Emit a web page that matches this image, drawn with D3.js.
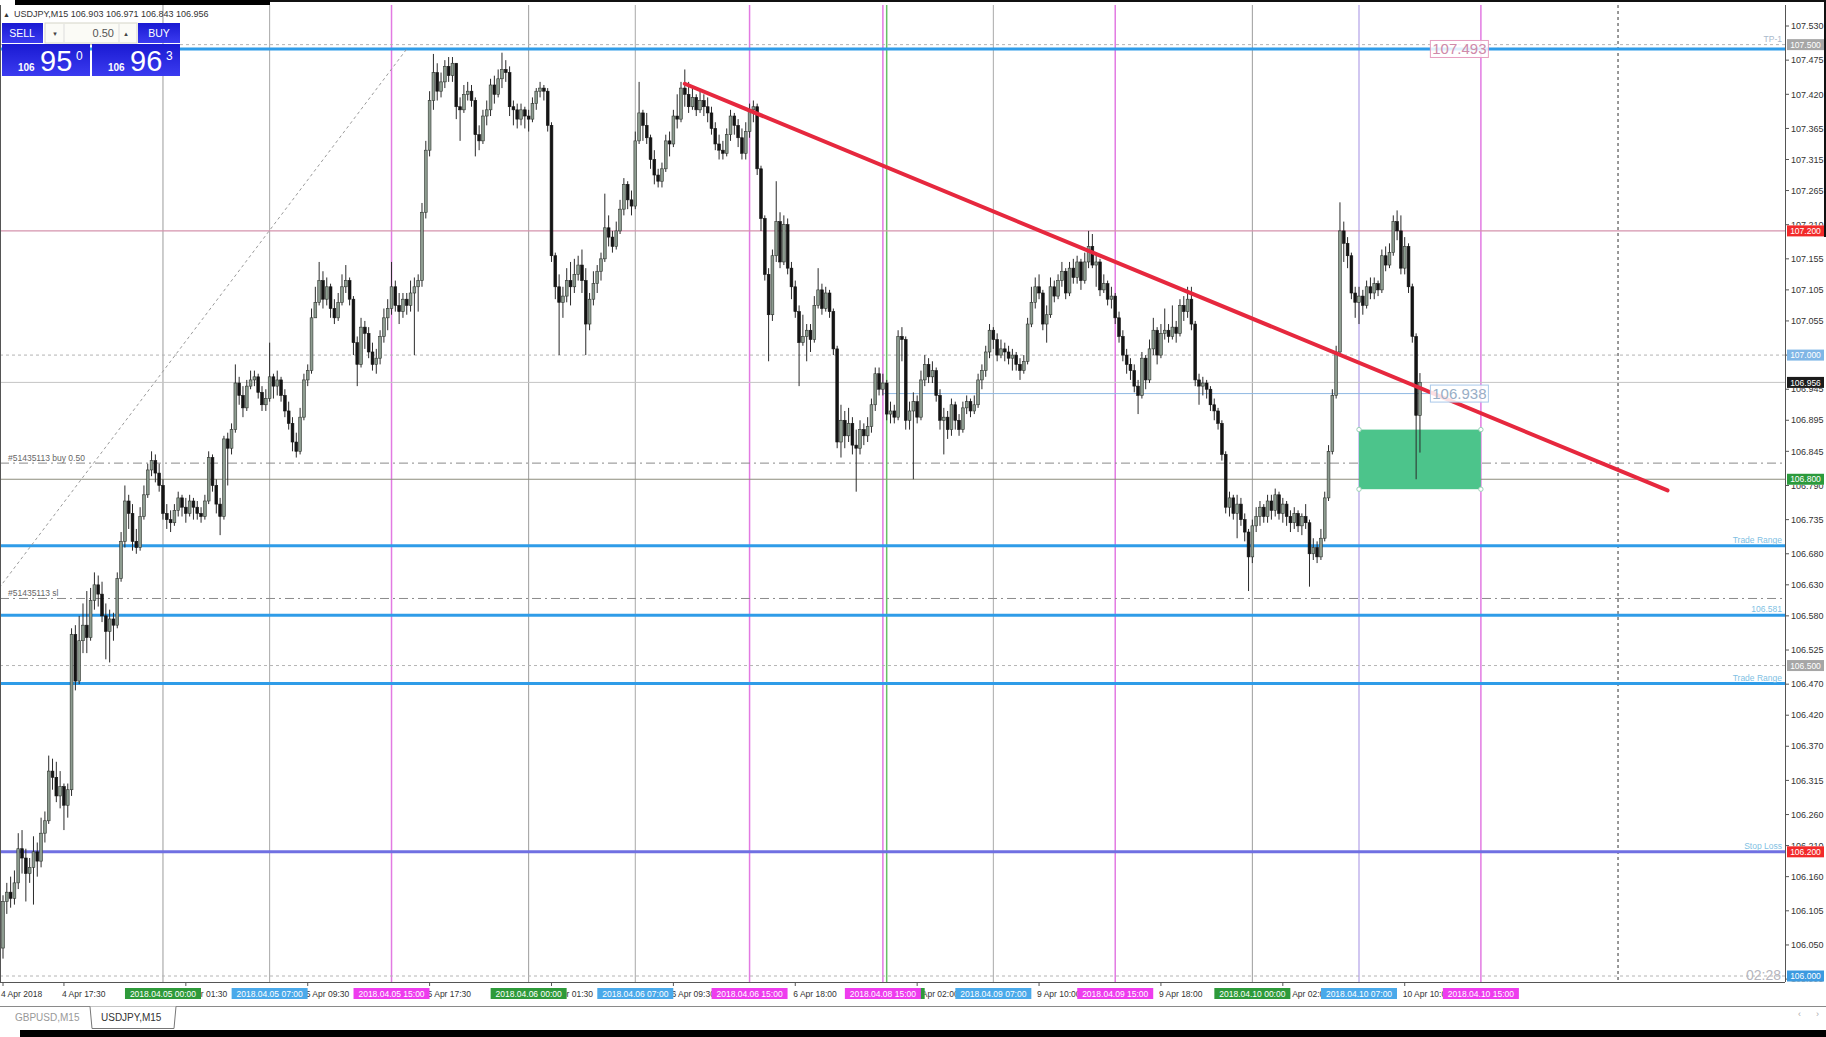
<!DOCTYPE html>
<html>
<head>
<meta charset="utf-8">
<script src="https://cdn.jsdelivr.net/npm/d3@7"></script>
<style>
  html, body { margin: 0; padding: 0; background: #fff; overflow: hidden; }
  svg { display: block; font-family: "Liberation Sans", "DejaVu Sans", sans-serif; }
</style>
</head>
<body>
<script>
// USDJPY M15, 4 Apr 13:30 .. 10 Apr 11:00 (bar index = M15 bar, weekend skipped)
const firstOpen = 106.045;

const closes = [
  106.120,106.135,106.125,106.150,106.205,106.190,106.165,106.175,106.200,106.185,
  106.230,106.250,106.330,106.320,106.290,106.305,106.275,106.300,106.550,106.475,
  106.540,106.565,106.545,106.605,106.630,106.615,106.580,106.555,106.575,106.565,
  106.640,106.700,106.765,106.745,106.700,106.690,106.740,106.775,106.815,106.830,
  106.810,106.790,106.745,106.735,106.730,106.750,106.770,106.755,106.745,106.765,
  106.755,106.745,106.740,106.765,106.835,106.790,106.760,106.740,106.865,106.850,
  106.880,106.955,106.935,106.915,106.950,106.960,106.965,106.940,106.920,106.930,
  106.965,106.950,106.960,106.935,106.910,106.890,106.860,106.845,106.900,106.960,
  106.975,107.060,107.085,107.120,107.090,107.110,107.075,107.060,107.085,107.110,
  107.120,107.090,107.020,106.985,107.045,107.035,107.005,106.985,106.995,107.030,
  107.060,107.075,107.110,107.080,107.070,107.090,107.080,107.100,107.110,107.120,
  107.230,107.330,107.410,107.455,107.425,107.440,107.465,107.450,107.470,107.400,
  107.395,107.420,107.425,107.410,107.355,107.345,107.385,107.395,107.435,107.420,
  107.445,107.460,107.455,107.400,107.395,107.380,107.395,107.385,107.380,107.405,
  107.425,107.430,107.425,107.370,107.160,107.110,107.085,107.095,107.120,107.110,
  107.130,107.145,107.120,107.050,107.090,107.115,107.135,107.155,107.205,107.190,
  107.175,107.200,107.235,107.275,107.250,107.240,107.345,107.390,107.370,107.350,
  107.315,107.290,107.280,107.300,107.345,107.340,107.385,107.380,107.430,107.420,
  107.400,107.415,107.395,107.410,107.400,107.390,107.365,107.340,107.330,107.325,
  107.355,107.385,107.370,107.350,107.325,107.360,107.395,107.400,107.300,107.220,
  107.130,107.065,107.160,107.215,107.150,107.210,107.140,107.110,107.070,107.020,
  107.030,107.040,107.025,107.080,107.105,107.075,107.100,107.070,107.010,106.860,
  106.895,106.870,106.890,106.855,106.850,106.880,106.870,106.885,106.920,106.970,
  106.945,106.955,106.905,106.910,106.900,107.030,107.025,106.895,106.910,106.925,
  106.900,106.960,106.985,106.965,106.975,106.935,106.895,106.900,106.880,106.920,
  106.895,106.880,106.915,106.925,106.910,106.920,106.960,106.975,107.005,107.040,
  107.025,107.000,107.010,107.005,106.995,107.000,106.985,106.975,106.990,107.050,
  107.085,107.110,107.100,107.050,107.065,107.110,107.095,107.120,107.135,107.100,
  107.140,107.125,107.150,107.120,107.150,107.175,107.145,107.150,107.105,107.115,
  107.090,107.095,107.060,107.030,107.000,106.985,106.975,106.950,106.935,106.995,
  106.960,107.010,107.040,107.000,107.035,107.040,107.030,107.045,107.035,107.080,
  107.070,107.090,107.050,106.960,106.950,106.955,106.945,106.920,106.910,106.890,
  106.840,106.755,106.770,106.745,106.760,106.735,106.715,106.675,106.725,106.740,
  106.755,106.740,106.765,106.750,106.775,106.745,106.760,106.740,106.730,106.745,
  106.725,106.740,106.730,106.680,106.690,106.675,106.705,106.770,106.845,106.935,
  107.005,107.200,107.180,107.160,107.100,107.085,107.095,107.080,107.110,107.100,
  107.115,107.105,107.160,107.145,107.165,107.215,107.200,107.140,107.175,107.110,
  107.030,106.903,106.956
];

const highs = [
  106.130,106.150,106.160,106.170,106.230,106.235,106.205,106.190,106.225,106.215,
  106.255,106.265,106.355,106.350,106.345,106.330,106.310,106.310,106.560,106.565,
  106.580,106.600,106.620,106.625,106.650,106.645,106.635,106.600,106.590,106.585,
  106.650,106.715,106.790,106.775,106.760,106.720,106.755,106.790,106.825,106.845,
  106.840,106.825,106.800,106.760,106.750,106.760,106.780,106.775,106.770,106.775,
  106.770,106.765,106.755,106.775,106.845,106.840,106.800,106.770,106.870,106.875,
  106.890,106.985,106.965,106.950,106.960,106.975,106.975,106.970,106.950,106.945,
  107.020,106.970,106.975,106.965,106.945,106.925,106.900,106.875,106.915,106.970,
  106.985,107.075,107.110,107.150,107.135,107.125,107.115,107.090,107.100,107.130,
  107.145,107.125,107.095,107.030,107.060,107.055,107.045,107.020,107.010,107.040,
  107.075,107.090,107.150,107.120,107.100,107.100,107.100,107.120,107.125,107.130,
  107.245,107.345,107.425,107.485,107.470,107.455,107.475,107.480,107.480,107.470,
  107.415,107.435,107.440,107.435,107.415,107.370,107.395,107.410,107.445,107.450,
  107.460,107.487,107.475,107.465,107.410,107.405,107.405,107.400,107.395,107.415,
  107.430,107.440,107.435,107.430,107.375,107.165,107.130,107.110,107.140,107.150,
  107.155,107.160,107.170,107.140,107.100,107.135,107.145,107.165,107.260,107.225,
  107.200,107.215,107.250,107.285,107.280,107.265,107.360,107.440,107.395,107.390,
  107.355,107.330,107.300,107.310,107.355,107.360,107.395,107.420,107.440,107.460,
  107.440,107.430,107.420,107.425,107.420,107.415,107.400,107.375,107.355,107.345,
  107.365,107.395,107.390,107.380,107.365,107.375,107.405,107.410,107.405,107.305,
  107.225,107.140,107.170,107.280,107.230,107.225,107.220,107.150,107.120,107.080,
  107.065,107.050,107.050,107.095,107.140,107.115,107.110,107.105,107.075,107.015,
  106.920,106.910,106.915,106.900,106.880,106.895,106.890,106.900,106.930,106.980,
  106.980,106.970,106.960,106.925,106.920,107.040,107.045,107.030,106.925,106.940,
  106.935,106.975,107.000,106.995,106.990,106.980,106.945,106.915,106.910,106.930,
  106.925,106.905,106.925,106.935,106.930,106.935,106.970,106.985,107.015,107.050,
  107.045,107.035,107.025,107.020,107.015,107.010,107.005,106.995,107.000,107.060,
  107.110,107.125,107.130,107.105,107.080,107.125,107.120,107.130,107.150,107.140,
  107.150,107.155,107.160,107.155,107.165,107.200,107.195,107.165,107.155,107.130,
  107.120,107.110,107.100,107.070,107.040,107.010,106.995,106.985,106.960,107.005,
  107.000,107.025,107.060,107.045,107.050,107.075,107.050,107.080,107.055,107.090,
  107.095,107.110,107.110,107.055,106.970,106.965,106.960,106.950,106.930,106.915,
  106.895,106.845,106.780,106.775,106.775,106.770,106.745,106.720,106.735,106.755,
  106.765,106.760,106.775,106.775,106.785,106.780,106.770,106.765,106.750,106.755,
  106.750,106.745,106.760,106.735,106.705,106.700,106.720,106.780,106.855,106.945,
  107.015,107.246,107.215,107.190,107.165,107.110,107.110,107.105,107.120,107.125,
  107.125,107.120,107.170,107.175,107.180,107.225,107.233,107.225,107.190,107.180,
  107.115,107.035,106.971
];

const lows = [
  106.028,106.100,106.110,106.115,106.140,106.165,106.120,106.150,106.115,106.160,
  106.175,106.215,106.245,106.300,106.280,106.270,106.235,106.255,106.290,106.460,
  106.470,106.520,106.520,106.540,106.590,106.595,106.570,106.510,106.505,106.540,
  106.560,106.635,106.690,106.720,106.685,106.680,106.685,106.735,106.770,106.805,
  106.795,106.780,106.735,106.720,106.715,106.725,106.740,106.740,106.730,106.740,
  106.735,106.735,106.730,106.735,106.760,106.780,106.745,106.710,106.735,106.790,
  106.840,106.875,106.920,106.900,106.910,106.945,106.950,106.930,106.910,106.910,
  106.925,106.930,106.935,106.925,106.900,106.880,106.845,106.835,106.840,106.895,
  106.950,106.970,107.060,107.080,107.075,107.080,107.060,107.050,107.055,107.080,
  107.100,107.080,107.000,106.950,106.980,107.010,106.995,106.975,106.970,106.985,
  107.020,107.040,107.065,107.070,107.050,107.060,107.065,107.070,107.000,107.070,
  107.110,107.220,107.320,107.395,107.410,107.415,107.430,107.440,107.440,107.380,
  107.345,107.390,107.410,107.400,107.320,107.330,107.340,107.370,107.385,107.405,
  107.415,107.430,107.440,107.385,107.370,107.365,107.370,107.365,107.360,107.375,
  107.395,107.415,107.410,107.360,107.150,107.090,107.000,107.060,107.085,107.080,
  107.100,107.120,107.100,107.000,107.040,107.080,107.100,107.120,107.150,107.175,
  107.165,107.170,107.195,107.225,107.235,107.225,107.235,107.340,107.345,107.340,
  107.300,107.275,107.270,107.270,107.295,107.320,107.335,107.365,107.375,107.400,
  107.390,107.395,107.385,107.390,107.385,107.375,107.355,107.330,107.315,107.315,
  107.320,107.345,107.355,107.335,107.315,107.315,107.350,107.375,107.290,107.200,
  107.120,106.990,107.055,107.150,107.140,107.145,107.130,107.090,107.060,106.950,
  107.015,106.990,107.005,107.020,107.075,107.065,107.070,107.060,107.000,106.850,
  106.835,106.850,106.860,106.840,106.780,106.840,106.855,106.860,106.875,106.910,
  106.935,106.935,106.895,106.890,106.890,106.895,106.990,106.880,106.880,106.800,
  106.890,106.895,106.950,106.955,106.955,106.925,106.880,106.840,106.865,106.870,
  106.880,106.870,106.875,106.905,106.900,106.905,106.915,106.945,106.965,106.995,
  107.010,106.990,106.995,106.990,106.985,106.975,106.975,106.960,106.970,106.985,
  107.045,107.075,107.090,107.040,107.020,107.060,107.085,107.090,107.110,107.090,
  107.095,107.115,107.115,107.105,107.115,107.140,107.140,107.110,107.095,107.100,
  107.080,107.075,107.050,107.020,106.990,106.970,106.960,106.940,106.905,106.930,
  106.945,106.955,107.000,106.985,106.995,107.025,107.020,107.025,107.020,107.030,
  107.055,107.060,107.040,106.950,106.920,106.935,106.930,106.910,106.895,106.880,
  106.830,106.745,106.740,106.735,106.705,106.725,106.700,106.620,106.665,106.715,
  106.725,106.730,106.730,106.735,106.740,106.735,106.730,106.725,106.715,106.720,
  106.715,106.710,106.720,106.627,106.670,106.665,106.670,106.700,106.765,106.840,
  106.930,107.000,107.150,107.140,107.090,107.060,107.050,107.065,107.075,107.090,
  107.090,107.095,107.100,107.135,107.140,107.160,107.185,107.130,107.130,107.100,
  107.020,106.800,106.843
];

// price axis
const priceTicks = [107.530,107.475,107.420,107.365,107.315,107.265,107.210,107.155,107.105,107.055,
  107.000,106.945,106.895,106.845,106.790,106.735,106.680,106.630,106.580,106.525,
  106.470,106.420,106.370,106.315,106.260,106.210,106.160,106.105,106.050,105.995];
const tagPrices = [107.500, 107.200, 107.000, 106.956, 106.800, 106.500, 106.200, 106.000];
const tagKinds  = ["grey", "red", "sky", "bid", "green", "grey", "red", "blue"];

// time axis
const timeLabelBars = [0, 16, 48, 80, 112, 144, 176, 208, 240, 272, 304, 336, 368];
const timeLabels = ["4 Apr 2018", "4 Apr 17:30", "5 Apr 01:30", "5 Apr 09:30", "5 Apr 17:30",
  "6 Apr 01:30", "6 Apr 09:30", "6 Apr 18:00", "9 Apr 02:00", "9 Apr 10:00", "9 Apr 18:00",
  "10 Apr 02:00", "10 Apr 10:00"];

// vertical line objects
const vLineBars  = [42, 70, 102, 138, 166, 196, 232, 231, 260, 292, 328, 356, 388, 424];
const vLineTimes = ["2018.04.05 00:00", "2018.04.05 07:00", "2018.04.05 15:00", "2018.04.06 00:00",
  "2018.04.06 07:00", "2018.04.06 15:00", "2018.04.09 00:00", "2018.04.08 15:00", "2018.04.09 07:00",
  "2018.04.09 15:00", "2018.04.10 00:00", "2018.04.10 07:00", "2018.04.10 15:00", ""];
const vLineKinds = ["d0", "d7", "d15", "d0", "d7", "d15", "d0g", "d15", "d7", "d15", "d0", "d7p", "d15", "sep"];

// horizontal line objects
const hLinePrices = [107.500, 107.493, 107.200, 107.000, 106.956, 106.826, 106.800, 106.693, 106.608, 106.581, 106.500, 106.471, 106.200, 106.000];
const hLineKinds  = ["dash", "blue", "pink", "dash", "bid", "order", "olive", "blue", "order", "blue", "dash", "blue", "stop", "dash"];

const rightNotePrices = [107.500, 106.693, 106.581, 106.471, 106.200];
const rightNotes = ["TP-1", "Trade Range", "106.581", "Trade Range", "Stop Loss"];
const leftNotePrices = [106.826, 106.608];
const leftNotes = ["#51435113 buy 0.50", "#51435113 sl"];

// other objects
const trendBars = [179, 437], trendPrices = [107.437, 106.782];
const diagBars = [-1, 106], diagPrices = [106.625, 107.493];
const rectBars = [356, 388], rectPrices = [106.880, 106.784];
const priceBoxBar = 375;
const priceBoxes = [107.493, 106.938];
const levelLineStart = 231;  // thin 106.938 line starts at this bar

const header = "USDJPY,M15  106.903 106.971 106.843 106.956";
const lot = "0.50";
const sellQuote = ["106", "95", "0"], buyQuote = ["106", "96", "3"];
const countdown = "02:28";
const tabs = ["GBPUSD,M15", "USDJPY,M15"];

// ---------- styles ----------
const tagFill = { grey: "#a6a6a6", red: "#f22a2a", sky: "#7fb6e6", bid: "#1b1b1b", green: "#2b9a3c", blue: "#3c9ae0" };
const vStyle = {
  d0:  { line: "#9c9c9c", w: 1,   box: "#2e9a3a" },
  d0g: { line: "#66c266", w: 1.5, box: "#2e9a3a" },
  d7:  { line: "#a9a9a9", w: 1,   box: "#4aa9ea" },
  d7p: { line: "#b9a9ea", w: 1.3, box: "#4aa9ea" },
  d15: { line: "#e27ae2", w: 1.5, box: "#ee3cee" },
  sep: { line: "#333",    w: 1,   dash: "3,3" }
};
const hStyle = {
  dash:  { c: "#b4b4b4", w: 1, dash: "3,3" },
  blue:  { c: "#2f9ce8", w: 3 },
  pink:  { c: "#d493ad", w: 1.2 },
  bid:   { c: "#c4c4c4", w: 1 },
  order: { c: "#8a8a8a", w: 1, dash: "9,4,2,4" },
  olive: { c: "#8c8c7c", w: 1.2 },
  stop:  { c: "#7070e2", w: 3 }
};

const W = 1826, H = 1037;
const plot = { left: 0, right: 1785, top: 5, bottom: 982 };

const x = d3.scaleLinear().domain([0, 468]).range([3, 3 + 468 * 3.809]);
const y = d3.scaleLinear().domain([106.0, 107.53]).range([976, 26]);

const svg = d3.select("body").append("svg").attr("width", W).attr("height", H);
svg.append("rect").attr("width", W).attr("height", H).attr("fill", "#fff");

const defs = svg.append("defs");
defs.append("clipPath").attr("id", "plotClip").append("rect")
  .attr("x", plot.left).attr("y", plot.top)
  .attr("width", plot.right - plot.left).attr("height", plot.bottom - plot.top);
const grad = defs.append("linearGradient").attr("id", "btn").attr("x1", 0).attr("x2", 0).attr("y1", 0).attr("y2", 1);
grad.append("stop").attr("offset", 0).attr("stop-color", "#1a1ad2");
grad.append("stop").attr("offset", 1).attr("stop-color", "#3b3bf0");

const g = svg.append("g").attr("clip-path", "url(#plotClip)");

// vertical lines
const vData = vLineBars.map((b, k) => ({ b, t: vLineTimes[k], s: vStyle[vLineKinds[k]] }));
g.selectAll("line.v").data(vData).join("line")
  .attr("x1", d => x(d.b)).attr("x2", d => x(d.b))
  .attr("y1", plot.top).attr("y2", plot.bottom)
  .attr("stroke", d => d.s.line).attr("stroke-width", d => d.s.w)
  .attr("stroke-dasharray", d => d.s.dash || null);

// horizontal lines
const hData = hLinePrices.map((p, k) => ({ p, s: hStyle[hLineKinds[k]] }));
g.selectAll("line.h").data(hData).join("line")
  .attr("x1", plot.left).attr("x2", plot.right)
  .attr("y1", d => y(d.p)).attr("y2", d => y(d.p))
  .attr("stroke", d => d.s.c).attr("stroke-width", d => d.s.w)
  .attr("stroke-dasharray", d => d.s.dash || null);

// thin 106.938 level
g.append("line")
  .attr("x1", x(levelLineStart)).attr("x2", x(priceBoxBar) - 2)
  .attr("y1", y(priceBoxes[1])).attr("y2", y(priceBoxes[1]))
  .attr("stroke", "#8fb8e2").attr("stroke-width", 1);

// green zone
g.append("rect")
  .attr("x", x(rectBars[0])).attr("width", x(rectBars[1]) - x(rectBars[0]))
  .attr("y", y(rectPrices[0])).attr("height", y(rectPrices[1]) - y(rectPrices[0]))
  .attr("fill", "#4cc48b");
g.selectAll("circle.h").data([[0,0],[0,1],[1,0],[1,1]]).join("circle")
  .attr("cx", d => x(rectBars[d[0]])).attr("cy", d => y(rectPrices[d[1]]))
  .attr("r", 2.2).attr("fill", "#fff").attr("stroke", "#9ad0b6").attr("stroke-width", 1);

// dotted diagonal
g.append("line")
  .attr("x1", x(diagBars[0])).attr("y1", y(diagPrices[0]))
  .attr("x2", x(diagBars[1])).attr("y2", y(diagPrices[1]))
  .attr("stroke", "#9a9a9a").attr("stroke-width", 1).attr("stroke-dasharray", "3,3");

// candles
const bars = closes.map((c, i) => {
  const o = i ? closes[i - 1] : firstOpen;
  return { i, o, c, h: Math.max(highs[i], o, c), l: Math.min(lows[i], o, c) };
});
g.selectAll("line.wick").data(bars).join("line")
  .attr("x1", d => x(d.i)).attr("x2", d => x(d.i))
  .attr("y1", d => y(d.h)).attr("y2", d => y(d.l))
  .attr("stroke", "#2b2b2b").attr("stroke-width", 1);
g.selectAll("rect.body").data(bars).join("rect")
  .attr("x", d => x(d.i) - 1.4).attr("width", 2.8)
  .attr("y", d => y(Math.max(d.o, d.c)))
  .attr("height", d => Math.max(1, Math.abs(y(d.o) - y(d.c))))
  .attr("fill", d => d.c >= d.o ? "#8d9c90" : "#141414")
  .attr("stroke", d => d.c >= d.o ? "#303530" : "#141414").attr("stroke-width", 0.6);

// trend line
g.append("line")
  .attr("x1", x(trendBars[0])).attr("y1", y(trendPrices[0]))
  .attr("x2", x(trendBars[1])).attr("y2", y(trendPrices[1]))
  .attr("stroke", "#e6283e").attr("stroke-width", 4).attr("stroke-linecap", "round");

// price label objects
const boxColors = [{ stroke: "#e79ec0", text: "#cf8aa9" }, { stroke: "#a9c9ea", text: "#98aec6" }];
priceBoxes.forEach((p, k) => {
  const bx = x(priceBoxBar) - 1, by = y(p) - 8.5;
  g.append("rect").attr("x", bx).attr("y", by).attr("width", 58).attr("height", 17)
    .attr("fill", "#fff").attr("fill-opacity", 0.85)
    .attr("stroke", boxColors[k].stroke).attr("stroke-width", 1);
  g.append("text").attr("x", bx + 29).attr("y", y(p) + 5.5).attr("text-anchor", "middle")
    .attr("font-size", 15).attr("fill", boxColors[k].text).text(p.toFixed(3));
});

// notes on lines
g.selectAll("text.rn").data(rightNotes).join("text")
  .attr("x", plot.right - 3).attr("y", (d, k) => y(rightNotePrices[k]) - 3)
  .attr("text-anchor", "end").attr("font-size", 8.5)
  .attr("fill", (d, k) => k === 0 ? "#a9b9cb" : "#7fbfe3").text(d => d);
g.selectAll("text.ln").data(leftNotes).join("text")
  .attr("x", 8).attr("y", (d, k) => y(leftNotePrices[k]) - 2)
  .attr("font-size", 8.5).attr("fill", "#666").text(d => d);
g.append("text").attr("x", plot.right - 4).attr("y", plot.bottom - 2)
  .attr("text-anchor", "end").attr("font-size", 14).attr("fill", "#b6b6be").text(countdown);

// frame
svg.append("line").attr("x1", 0.5).attr("x2", 0.5).attr("y1", plot.top).attr("y2", plot.bottom).attr("stroke", "#555");
svg.append("line").attr("x1", plot.right + 0.5).attr("x2", plot.right + 0.5).attr("y1", plot.top).attr("y2", plot.bottom).attr("stroke", "#555");
svg.append("line").attr("x1", 0).attr("x2", plot.right).attr("y1", plot.bottom + 0.5).attr("y2", plot.bottom + 0.5).attr("stroke", "#555");

// price axis: tick labels hidden under a tag are clipped to the part left visible
const tagHalf = 5.5;
const hiddenBy = p => tagPrices.find(t => Math.abs(y(t) - y(p)) < 11);
const ya = svg.append("g");
ya.selectAll("line").data(priceTicks).join("line")
  .attr("x1", plot.right).attr("x2", plot.right + 4)
  .attr("y1", d => y(d)).attr("y2", d => y(d)).attr("stroke", "#555");
ya.selectAll("text").data(priceTicks.filter(p => !hiddenBy(p))).join("text")
  .attr("x", plot.right + 6).attr("y", d => y(d) + 3.2)
  .attr("font-size", 9).attr("fill", "#333").text(d => d.toFixed(3));
priceTicks.filter(p => hiddenBy(p)).forEach((p, k) => {
  const t = hiddenBy(p), ty = y(t), py = y(p);
  const top = py < ty ? py - 6 : ty + tagHalf;
  const bot = py < ty ? ty - tagHalf : py + 6;
  if (bot - top < 1.5) return;
  const id = "tc" + k;
  defs.append("clipPath").attr("id", id).append("rect")
    .attr("x", plot.right + 2).attr("y", top).attr("width", 40).attr("height", bot - top);
  ya.append("text").attr("clip-path", `url(#${id})`)
    .attr("x", plot.right + 6).attr("y", py + 3.2)
    .attr("font-size", 9).attr("fill", "#333").text(p.toFixed(3));
});
const tags = svg.append("g");
tags.selectAll("rect").data(tagPrices).join("rect")
  .attr("x", plot.right + 2).attr("y", d => y(d) - tagHalf)
  .attr("width", 37).attr("height", tagHalf * 2)
  .attr("fill", (d, k) => tagFill[tagKinds[k]]);
tags.selectAll("text").data(tagPrices).join("text")
  .attr("x", plot.right + 20.5).attr("y", d => y(d) + 3.2).attr("text-anchor", "middle")
  .attr("font-size", 8.5).attr("fill", "#fff").text(d => d.toFixed(3));

// time axis
const xa = svg.append("g");
xa.selectAll("line").data(timeLabelBars).join("line")
  .attr("x1", d => x(d)).attr("x2", d => x(d))
  .attr("y1", plot.bottom).attr("y2", plot.bottom + 4).attr("stroke", "#555");
xa.selectAll("text").data(timeLabelBars).join("text")
  .attr("x", d => Math.max(1, x(d) - 2)).attr("y", plot.bottom + 15)
  .attr("font-size", 8.5).attr("fill", "#333").text((d, k) => timeLabels[k]);

// time tags of the vertical lines, each box with its own text so later ones cover earlier ones
const vBoxes = vData.filter(d => d.t);
const vt = svg.append("g").selectAll("g").data(vBoxes).join("g")
  .attr("transform", d => `translate(${x(d.b)},${plot.bottom + 6})`);
vt.append("rect").attr("x", -38).attr("width", 76).attr("height", 11).attr("fill", d => d.s.box);
vt.append("text").attr("y", 9).attr("text-anchor", "middle")
  .attr("font-size", 8.5).attr("fill", "#fff").text(d => d.t)
  .attr("clip-path", null);
// a tag lying under the next one only shows its free edge
vt.each(function (d, k) {
  const next = vBoxes[k + 1];
  if (next && Math.abs(x(next.b) - x(d.b)) < 76) d3.select(this).select("text").remove();
});

// header and one-click panel
svg.append("text").attr("x", 3).attr("y", 17).attr("font-size", 7).attr("fill", "#333").text("▲");
svg.append("text").attr("x", 14).attr("y", 17).attr("font-size", 9).attr("fill", "#333").text(header);
const panel = svg.append("g");
panel.append("rect").attr("x", 2).attr("y", 23).attr("width", 41).attr("height", 20).attr("fill", "url(#btn)");
panel.append("rect").attr("x", 138).attr("y", 23).attr("width", 42).attr("height", 20).attr("fill", "url(#btn)");
panel.append("rect").attr("x", 45).attr("y", 23).attr("width", 92).attr("height", 20)
  .attr("fill", "#fbfbf6").attr("stroke", "#d6d6c8");
panel.append("line").attr("x1", 64).attr("x2", 64).attr("y1", 24).attr("y2", 42).attr("stroke", "#ddd");
panel.append("line").attr("x1", 119).attr("x2", 119).attr("y1", 24).attr("y2", 42).attr("stroke", "#ddd");
panel.append("rect").attr("x", 2).attr("y", 44).attr("width", 88).attr("height", 32).attr("fill", "url(#btn)");
panel.append("rect").attr("x", 92).attr("y", 44).attr("width", 88).attr("height", 32).attr("fill", "url(#btn)");
panel.append("text").attr("x", 22).attr("y", 37).attr("text-anchor", "middle").attr("font-size", 10.5).attr("fill", "#fff").text("SELL");
panel.append("text").attr("x", 159).attr("y", 37).attr("text-anchor", "middle").attr("font-size", 10.5).attr("fill", "#fff").text("BUY");
panel.append("text").attr("x", 55).attr("y", 36).attr("text-anchor", "middle").attr("font-size", 7).attr("fill", "#444").text("▾");
panel.append("text").attr("x", 126).attr("y", 36).attr("text-anchor", "middle").attr("font-size", 7).attr("fill", "#444").text("▴");
panel.append("text").attr("x", 114).attr("y", 37).attr("text-anchor", "end").attr("font-size", 11).attr("fill", "#555").text(lot);
[[sellQuote, 0], [buyQuote, 90]].forEach(([q, dx]) => {
  panel.append("text").attr("x", 18 + dx).attr("y", 71).attr("font-size", 10).attr("font-weight", "bold").attr("fill", "#fff").text(q[0]);
  panel.append("text").attr("x", 40 + dx).attr("y", 71).attr("font-size", 29).attr("fill", "#fff").text(q[1]);
  panel.append("text").attr("x", 76 + dx).attr("y", 60).attr("font-size", 12).attr("fill", "#fff").text(q[2]);
});

// bottom tabs
svg.append("line").attr("x1", 0).attr("x2", W).attr("y1", 1006.5).attr("y2", 1006.5).attr("stroke", "#8a8a8a");
svg.append("path").attr("d", "M90,1006.5 L92,1028.5 L174,1028.5 L176,1006.5")
  .attr("fill", "#fff").attr("stroke", "#777");
svg.append("text").attr("x", 15).attr("y", 1021).attr("font-size", 10).attr("fill", "#999").text(tabs[0]);
svg.append("text").attr("x", 101).attr("y", 1021).attr("font-size", 10).attr("fill", "#333").text(tabs[1]);
svg.append("text").attr("x", 1798).attr("y", 1017).attr("font-size", 9).attr("fill", "#aaa").text("‹");
svg.append("text").attr("x", 1816).attr("y", 1017).attr("font-size", 9).attr("fill", "#aaa").text("›");

// screenshot edges
svg.append("rect").attr("x", 15).attr("y", 0).attr("width", 255).attr("height", 5).attr("fill", "#000");
svg.append("rect").attr("x", 270).attr("y", 0).attr("width", W - 270).attr("height", 2).attr("fill", "#111");
svg.append("rect").attr("x", 20).attr("y", 1030).attr("width", W - 20).attr("height", 7).attr("fill", "#000");
svg.append("rect").attr("x", W - 2).attr("y", 0).attr("width", 2).attr("height", 237).attr("fill", "#111");
</script>
</body>
</html>
